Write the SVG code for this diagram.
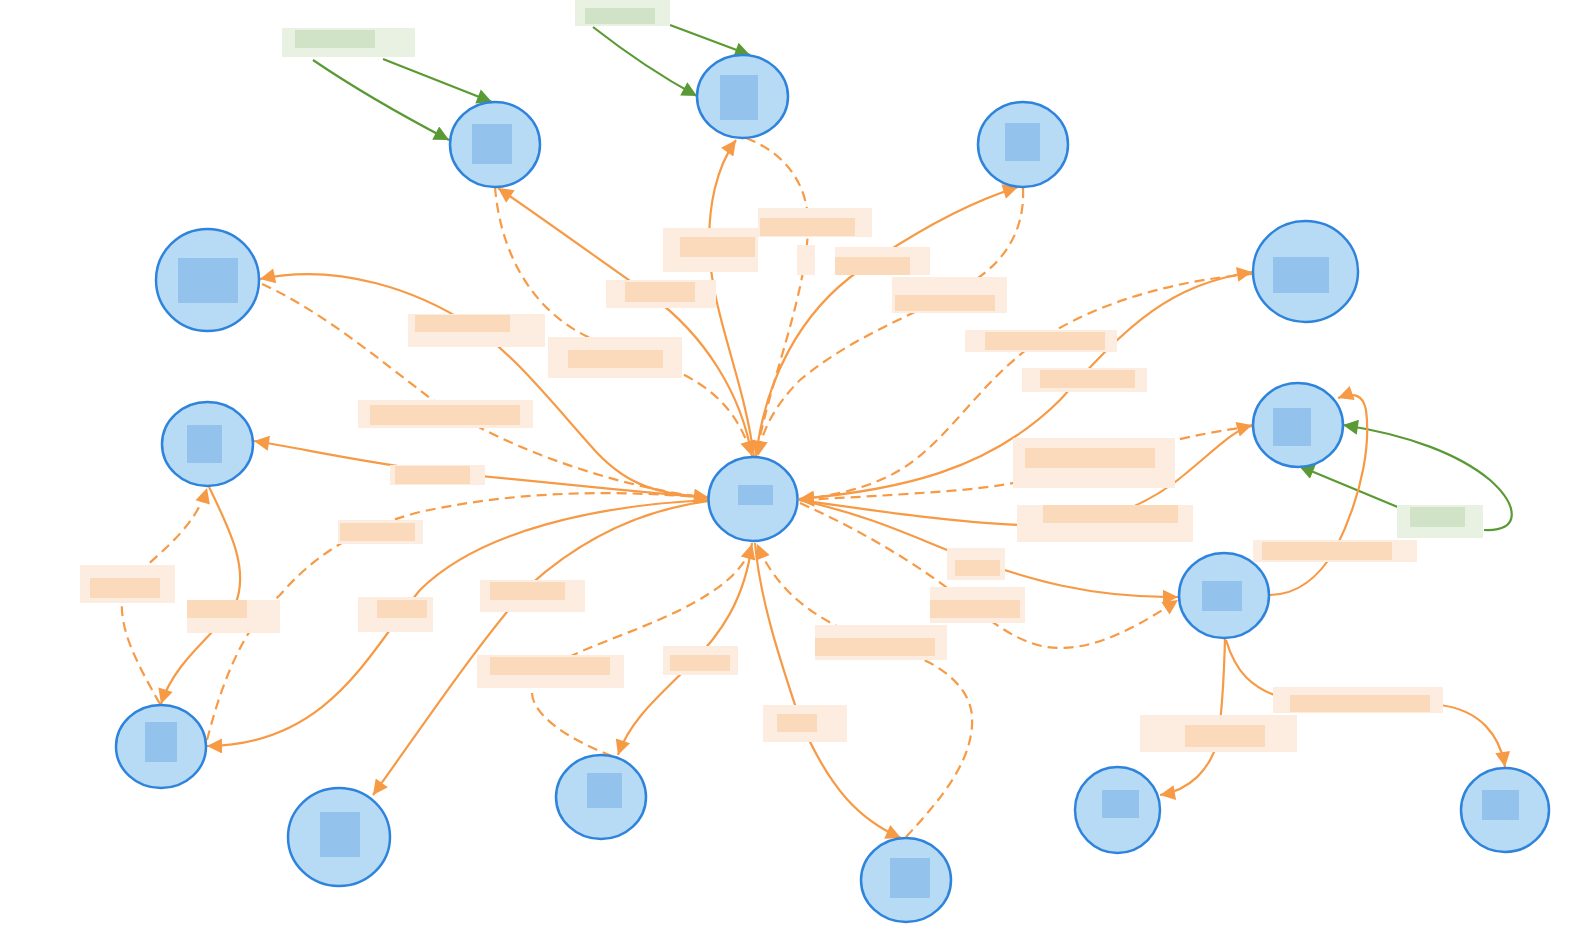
<svg xmlns="http://www.w3.org/2000/svg" width="1573" height="927" viewBox="0 0 1573 927">
<style>
.e{fill:none;stroke:#f79a45;stroke-width:2.2}
.d{stroke-dasharray:10 6}
.g{fill:none;stroke:#5a9a35;stroke-width:2.2}
.n{fill:#b7daf5;stroke:#2e84dc;stroke-width:2.5}
.ni{fill:#93c3ed}
.lo{fill:#fdede0}
.li{fill:#fbd9bb}
.go{fill:#e8f1e2}
.gi{fill:#d0e3c6}
</style>
<defs>
<marker id="ao" viewBox="0 0 10 10" refX="10" refY="5" markerWidth="20" markerHeight="15" markerUnits="userSpaceOnUse" orient="auto"><path d="M0,0 L10,5 L0,10 z" fill="#f79a45"/></marker>
<marker id="ag" viewBox="0 0 10 10" refX="10" refY="5" markerWidth="20" markerHeight="15" markerUnits="userSpaceOnUse" orient="auto"><path d="M0,0 L10,5 L0,10 z" fill="#5a9a35"/></marker>
</defs>
<rect width="1573" height="927" fill="#ffffff"/>
<g id="connectors">
<path class="g" d="M313,60 C360,92 405,117 449,140" marker-end="url(#ag)"/>
<path class="g" d="M383,59 L492,102" marker-end="url(#ag)"/>
<path class="g" d="M593,27 C625,52 660,76 697,96" marker-end="url(#ag)"/>
<path class="g" d="M670,25 L750,55" marker-end="url(#ag)"/>
<path class="g" d="M1400,508 L1299,466" marker-end="url(#ag)"/>
<path class="g" d="M1484,530 C1522,532 1518,505 1490,480 C1460,455 1410,435 1343,425" marker-end="url(#ag)"/>
<path class="e" d="M752,457 C742,395 705,335 650,295 C600,260 545,220 498,188" marker-end="url(#ao)"/>
<path class="e d" d="M495,187 C500,250 530,310 590,338 C650,366 725,368 752,456" marker-end="url(#ao)"/>
<path class="e" d="M754,457 C745,385 715,320 710,260 C706,205 718,165 736,140" marker-end="url(#ao)"/>
<path class="e d" d="M746,138 C790,155 810,190 808,230 C805,300 770,380 756,456" marker-end="url(#ao)"/>
<path class="e" d="M756,457 C765,380 800,312 860,270 C920,228 970,202 1018,187" marker-end="url(#ao)"/>
<path class="e d" d="M1023,188 C1025,230 1005,260 975,280 C930,310 860,330 800,380 C775,405 762,430 758,456" marker-end="url(#ao)"/>
<path class="e" d="M799,499 C900,490 990,470 1060,400 C1130,322 1170,285 1252,272" marker-end="url(#ao)"/>
<path class="e d" d="M1252,274 C1180,280 1100,300 1040,340 C980,380 950,440 900,470 C870,488 830,497 799,499" marker-end="url(#ao)"/>
<path class="e" d="M799,500 C870,510 950,522 1020,525 C1100,528 1150,505 1190,470 C1220,445 1235,430 1252,425" marker-end="url(#ao)"/>
<path class="e d" d="M1253,426 C1210,432 1170,440 1140,450 C1080,470 1020,485 960,490 C900,495 840,498 799,500" marker-end="url(#ao)"/>
<path class="e" d="M799,500 C870,515 920,540 960,555 C1030,580 1090,598 1178,597" marker-end="url(#ao)"/>
<path class="e d" d="M800,503 C860,530 910,560 950,590 C990,620 1020,648 1060,648 C1100,648 1140,625 1178,600" marker-end="url(#ao)"/>
<path class="e" d="M1269,595 C1300,595 1320,575 1335,550 C1365,490 1370,440 1366,410 C1363,395 1355,392 1338,398" marker-end="url(#ao)"/>
<path class="e" d="M1225,638 C1224,680 1222,710 1218,740 C1210,770 1190,790 1160,795" marker-end="url(#ao)"/>
<path class="e" d="M1226,640 C1235,670 1250,690 1290,700 L1440,705 C1480,710 1500,735 1505,767" marker-end="url(#ao)"/>
<path class="e" d="M755,543 C760,600 780,660 800,720 C830,790 860,820 901,838" marker-end="url(#ao)"/>
<path class="e d" d="M906,837 C940,800 975,760 972,715 C968,680 930,660 900,650 C830,630 780,600 757,544" marker-end="url(#ao)"/>
<path class="e" d="M752,543 C745,600 720,635 690,665 C660,695 630,720 618,755" marker-end="url(#ao)"/>
<path class="e d" d="M612,756 C570,740 530,715 532,690 C535,660 620,640 680,610 C720,590 745,570 752,544" marker-end="url(#ao)"/>
<path class="e" d="M709,501 C640,510 580,540 530,585 C480,640 420,730 373,795" marker-end="url(#ao)"/>
<path class="e" d="M709,500 C600,505 480,530 420,590 C370,650 330,745 207,746" marker-end="url(#ao)"/>
<path class="e d" d="M207,740 C220,690 240,630 280,595 C310,560 350,530 420,512 C520,490 620,490 709,498" marker-end="url(#ao)"/>
<path class="e" d="M709,498 C620,490 520,480 440,472 C360,462 300,448 254,441" marker-end="url(#ao)"/>
<path class="e" d="M709,497 C650,495 620,480 590,445 C550,400 510,350 470,325 C420,292 340,262 260,279" marker-end="url(#ao)"/>
<path class="e d" d="M262,284 C320,310 380,360 430,398 C490,440 600,485 709,498" marker-end="url(#ao)"/>
<path class="e" d="M209,487 C230,530 250,570 235,605 C215,635 175,660 161,704" marker-end="url(#ao)"/>
<path class="e d" d="M160,704 C135,660 120,630 122,600 C125,570 190,545 207,488" marker-end="url(#ao)"/>
</g>
<g id="labels">
<rect class="go" x="282" y="28" width="133" height="29"/><rect class="gi" x="295" y="30" width="80" height="18"/>
<rect class="go" x="575" y="0" width="95" height="26"/><rect class="gi" x="585" y="8" width="70" height="16"/>
<rect class="go" x="1397" y="505" width="86" height="33"/><rect class="gi" x="1410" y="507" width="55" height="20"/>
<rect class="lo" x="663" y="228" width="95" height="44"/><rect class="li" x="680" y="237" width="75" height="20"/>
<rect class="lo" x="758" y="208" width="114" height="29"/><rect class="li" x="760" y="218" width="95" height="18"/>
<rect class="lo" x="797" y="245" width="18" height="30"/>
<rect class="lo" x="835" y="247" width="95" height="28"/><rect class="li" x="835" y="257" width="75" height="18"/>
<rect class="lo" x="892" y="277" width="115" height="36"/><rect class="li" x="895" y="295" width="100" height="16"/>
<rect class="lo" x="606" y="280" width="110" height="28"/><rect class="li" x="625" y="282" width="70" height="20"/>
<rect class="lo" x="408" y="314" width="137" height="33"/><rect class="li" x="415" y="315" width="95" height="17"/>
<rect class="lo" x="548" y="337" width="134" height="41"/><rect class="li" x="568" y="350" width="95" height="18"/>
<rect class="lo" x="358" y="400" width="175" height="28"/><rect class="li" x="370" y="405" width="150" height="20"/>
<rect class="lo" x="965" y="330" width="152" height="22"/><rect class="li" x="985" y="332" width="120" height="18"/>
<rect class="lo" x="1022" y="368" width="125" height="24"/><rect class="li" x="1040" y="370" width="95" height="18"/>
<rect class="lo" x="1013" y="438" width="162" height="50"/><rect class="li" x="1025" y="448" width="130" height="20"/>
<rect class="lo" x="1017" y="505" width="176" height="37"/><rect class="li" x="1043" y="505" width="135" height="18"/>
<rect class="lo" x="1253" y="540" width="164" height="22"/><rect class="li" x="1262" y="542" width="130" height="18"/>
<rect class="lo" x="390" y="465" width="95" height="20"/><rect class="li" x="395" y="466" width="75" height="18"/>
<rect class="lo" x="338" y="520" width="85" height="24"/><rect class="li" x="340" y="523" width="75" height="18"/>
<rect class="lo" x="80" y="565" width="95" height="38"/><rect class="li" x="90" y="578" width="70" height="20"/>
<rect class="lo" x="187" y="600" width="93" height="33"/><rect class="li" x="187" y="600" width="60" height="18"/>
<rect class="lo" x="358" y="597" width="75" height="35"/><rect class="li" x="377" y="600" width="50" height="18"/>
<rect class="lo" x="480" y="580" width="105" height="32"/><rect class="li" x="490" y="582" width="75" height="18"/>
<rect class="lo" x="477" y="655" width="147" height="33"/><rect class="li" x="490" y="657" width="120" height="18"/>
<rect class="lo" x="663" y="646" width="75" height="29"/><rect class="li" x="670" y="655" width="60" height="16"/>
<rect class="lo" x="947" y="548" width="58" height="32"/><rect class="li" x="955" y="560" width="45" height="16"/>
<rect class="lo" x="930" y="587" width="95" height="36"/><rect class="li" x="930" y="600" width="90" height="18"/>
<rect class="lo" x="815" y="625" width="132" height="35"/><rect class="li" x="815" y="638" width="120" height="18"/>
<rect class="lo" x="763" y="705" width="84" height="37"/><rect class="li" x="777" y="714" width="40" height="18"/>
<rect class="lo" x="1140" y="715" width="157" height="37"/><rect class="li" x="1185" y="725" width="80" height="22"/>
<rect class="lo" x="1273" y="687" width="170" height="26"/><rect class="li" x="1290" y="695" width="140" height="17"/>
</g>
<g id="node-c"><ellipse class="n" cx="753" cy="499" rx="44.5" ry="42"/><rect class="ni" x="738" y="485" width="35" height="20"/></g>
<g id="node-1"><ellipse class="n" cx="495" cy="144.5" rx="45" ry="42.5"/><rect class="ni" x="472" y="124" width="40" height="40"/></g>
<g id="node-2"><ellipse class="n" cx="742.5" cy="96.5" rx="45.5" ry="41.5"/><rect class="ni" x="720" y="75" width="38" height="45"/></g>
<g id="node-3"><ellipse class="n" cx="1023" cy="144.5" rx="45" ry="42.5"/><rect class="ni" x="1005" y="123" width="35" height="38"/></g>
<g id="node-4"><ellipse class="n" cx="1305.5" cy="271.5" rx="52.5" ry="50.5"/><rect class="ni" x="1273" y="257" width="56" height="36"/></g>
<g id="node-5"><ellipse class="n" cx="1298" cy="425" rx="45" ry="42"/><rect class="ni" x="1273" y="408" width="38" height="38"/></g>
<g id="node-6"><ellipse class="n" cx="1224" cy="595.5" rx="45" ry="42.5"/><rect class="ni" x="1202" y="581" width="40" height="30"/></g>
<g id="node-7"><ellipse class="n" cx="1117.5" cy="810" rx="42.5" ry="43"/><rect class="ni" x="1102" y="790" width="37" height="28"/></g>
<g id="node-8"><ellipse class="n" cx="1505" cy="810" rx="44" ry="42"/><rect class="ni" x="1482" y="790" width="37" height="30"/></g>
<g id="node-9"><ellipse class="n" cx="906" cy="880" rx="45" ry="42"/><rect class="ni" x="890" y="858" width="40" height="40"/></g>
<g id="node-10"><ellipse class="n" cx="601" cy="797" rx="45" ry="42"/><rect class="ni" x="587" y="773" width="35" height="35"/></g>
<g id="node-11"><ellipse class="n" cx="339" cy="837" rx="51" ry="49"/><rect class="ni" x="320" y="812" width="40" height="45"/></g>
<g id="node-12"><ellipse class="n" cx="161" cy="746.5" rx="45" ry="41.5"/><rect class="ni" x="145" y="722" width="32" height="40"/></g>
<g id="node-13"><ellipse class="n" cx="207.5" cy="444" rx="45.5" ry="42"/><rect class="ni" x="187" y="425" width="35" height="38"/></g>
<g id="node-14"><ellipse class="n" cx="207.5" cy="280" rx="51.5" ry="51"/><rect class="ni" x="178" y="258" width="60" height="45"/></g>
</svg>
